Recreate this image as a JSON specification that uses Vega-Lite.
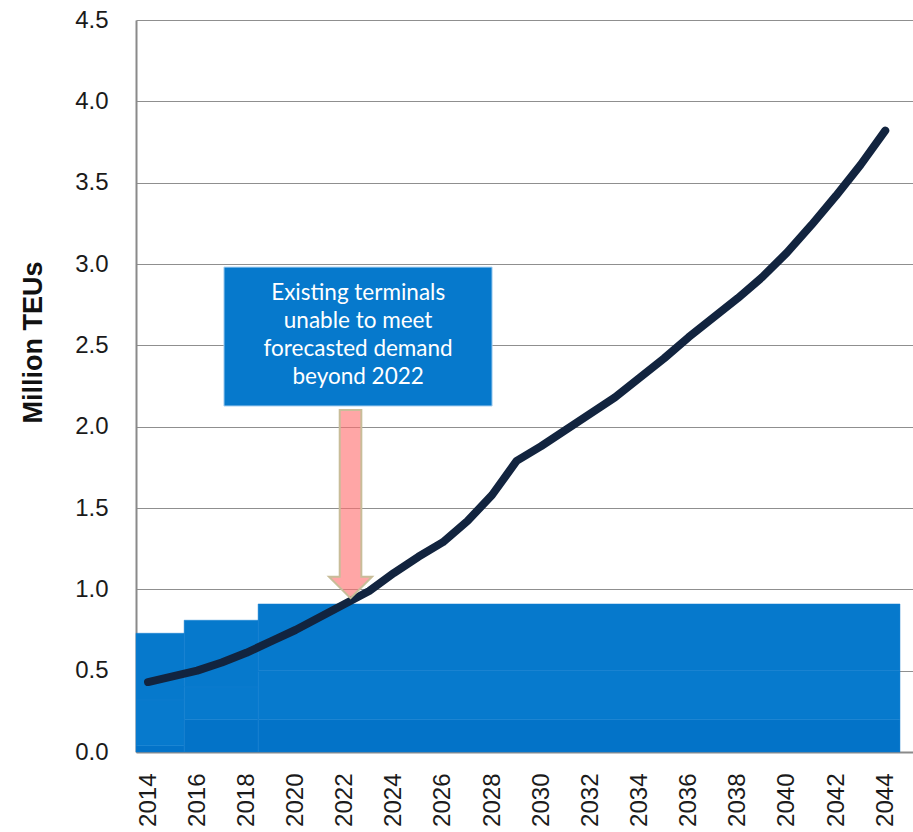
{
  "$schema": "https://vega.github.io/schema/vega-lite/v6.json",
  "width": 777,
  "height": 732,
  "autosize": {"type": "none"},
  "padding": {"left": 136, "top": 20, "right": 0, "bottom": 80},
  "background": "white",
  "config": {
    "view": {"stroke": null},
    "font": "Liberation Sans"
  },
  "datasets": {
    "capacity": [
      {"from": 2013.51, "to": 2015.47, "lo": 0.0, "hi": 0.04, "tier": "c"},
      {"from": 2013.51, "to": 2015.47, "lo": 0.04, "hi": 0.32, "tier": "b"},
      {"from": 2013.51, "to": 2015.47, "lo": 0.32, "hi": 0.73, "tier": "a"},
      {"from": 2015.47, "to": 2018.48, "lo": 0.0, "hi": 0.2, "tier": "c"},
      {"from": 2015.47, "to": 2018.48, "lo": 0.2, "hi": 0.4, "tier": "b"},
      {"from": 2015.47, "to": 2018.48, "lo": 0.4, "hi": 0.81, "tier": "a"},
      {"from": 2018.48, "to": 2044.6, "lo": 0.0, "hi": 0.2, "tier": "c"},
      {"from": 2018.48, "to": 2044.6, "lo": 0.2, "hi": 0.5, "tier": "b"},
      {"from": 2018.48, "to": 2044.6, "lo": 0.5, "hi": 0.91, "tier": "a"}
    ],
    "demand": [
      {"year": 2014, "teu": 0.43},
      {"year": 2015, "teu": 0.465},
      {"year": 2016, "teu": 0.5},
      {"year": 2017, "teu": 0.55},
      {"year": 2018, "teu": 0.61},
      {"year": 2019, "teu": 0.68},
      {"year": 2020, "teu": 0.75},
      {"year": 2021, "teu": 0.83},
      {"year": 2022, "teu": 0.91},
      {"year": 2023, "teu": 0.99},
      {"year": 2024, "teu": 1.1},
      {"year": 2025, "teu": 1.2},
      {"year": 2026, "teu": 1.29},
      {"year": 2027, "teu": 1.42},
      {"year": 2028, "teu": 1.58},
      {"year": 2029, "teu": 1.79},
      {"year": 2030, "teu": 1.88},
      {"year": 2031, "teu": 1.98},
      {"year": 2032, "teu": 2.08},
      {"year": 2033, "teu": 2.18},
      {"year": 2034, "teu": 2.3},
      {"year": 2035, "teu": 2.42},
      {"year": 2036, "teu": 2.55},
      {"year": 2037, "teu": 2.67},
      {"year": 2038, "teu": 2.79},
      {"year": 2039, "teu": 2.92},
      {"year": 2040, "teu": 3.07},
      {"year": 2041, "teu": 3.24},
      {"year": 2042, "teu": 3.42},
      {"year": 2043, "teu": 3.61},
      {"year": 2044, "teu": 3.82}
    ],
    "callout": [
      {"from": 2017.09, "to": 2028.0, "lo": 2.127, "hi": 2.981, "mid": 2022.55, "textAt": 2.821,
       "label": "Existing terminals\nunable to meet\nforecasted demand\nbeyond 2022"}
    ],
    "pointer": [
      {"year": 2022.24, "teu": 1.524}
    ]
  },
  "layer": [
    {
      "data": {"name": "capacity"},
      "mark": {"type": "rect", "stroke": "#127fd1", "strokeWidth": 0.5},
      "encoding": {
        "x": {
          "field": "from", "type": "quantitative",
          "scale": {"domain": [2013.51, 2045.13], "nice": false, "zero": false},
          "axis": {
            "title": null,
            "values": [2014, 2016, 2018, 2020, 2022, 2024, 2026, 2028, 2030, 2032, 2034, 2036, 2038, 2040, 2042, 2044],
            "format": "d",
            "labelAngle": -90,
            "labelAlign": "right",
            "labelBaseline": "middle",
            "labelPadding": 21,
            "labelFontSize": 24,
            "labelColor": "#1a1a1a",
            "labelFont": "Liberation Sans",
            "ticks": false,
            "grid": false,
            "domainColor": "#8a8a8a",
            "domainWidth": 2,
            "labelOverlap": false
          }
        },
        "x2": {"field": "to"},
        "y": {
          "field": "lo", "type": "quantitative",
          "scale": {"domain": [0, 4.5], "nice": false},
          "axis": {
            "title": "Million TEUs",
            "titleFont": "Liberation Sans",
            "titleFontSize": 27,
            "titleFontWeight": "bold",
            "titleColor": "#111111",
            "titleAngle": -90,
            "titleAlign": "center",
            "titleBaseline": "middle",
            "titleX": -103,
            "titleY": 322,
            "values": [0, 0.5, 1, 1.5, 2, 2.5, 3, 3.5, 4, 4.5],
            "format": ".1f",
            "labelFontSize": 24,
            "labelColor": "#1a1a1a",
            "labelFont": "Liberation Sans",
            "labelPadding": 28,
            "ticks": false,
            "grid": true,
            "gridColor": "#8f8f8f",
            "gridWidth": 1.2,
            "domainColor": "#8a8a8a",
            "domainWidth": 2
          }
        },
        "y2": {"field": "hi"},
        "color": {
          "field": "tier", "type": "nominal",
          "scale": {"domain": ["a", "b", "c"], "range": ["#0679cc", "#077acd", "#0373c8"]},
          "legend": null
        }
      }
    },
    {
      "data": {"name": "demand"},
      "mark": {"type": "line", "color": "#12243f", "strokeWidth": 8, "strokeCap": "round", "strokeJoin": "round"},
      "encoding": {
        "x": {"field": "year", "type": "quantitative"},
        "y": {"field": "teu", "type": "quantitative"}
      }
    },
    {
      "data": {"name": "callout"},
      "mark": {"type": "rect", "fill": "#0679cc", "stroke": "#a9d0f0", "strokeWidth": 1},
      "encoding": {
        "x": {"field": "from", "type": "quantitative"},
        "x2": {"field": "to"},
        "y": {"field": "lo", "type": "quantitative"},
        "y2": {"field": "hi"}
      }
    },
    {
      "data": {"name": "callout"},
      "mark": {"type": "text", "color": "white", "font": "Lato", "fontSize": 22.5, "lineHeight": 28, "lineBreak": "\n", "align": "center", "baseline": "middle"},
      "encoding": {
        "x": {"field": "mid", "type": "quantitative"},
        "y": {"field": "textAt", "type": "quantitative"},
        "text": {"field": "label"}
      }
    },
    {
      "data": {"name": "pointer"},
      "mark": {
        "type": "point",
        "shape": "M-0.115,-1L0.115,-1L0.115,0.773L0.229,0.773L0,1L-0.229,0.773L-0.115,0.773Z",
        "size": 35344,
        "filled": true,
        "fill": "#ff7070",
        "fillOpacity": 0.62,
        "stroke": "#c8bd99",
        "strokeWidth": 2,
        "strokeOpacity": 1,
        "opacity": 1
      },
      "encoding": {
        "x": {"field": "year", "type": "quantitative"},
        "y": {"field": "teu", "type": "quantitative"}
      }
    }
  ]
}
